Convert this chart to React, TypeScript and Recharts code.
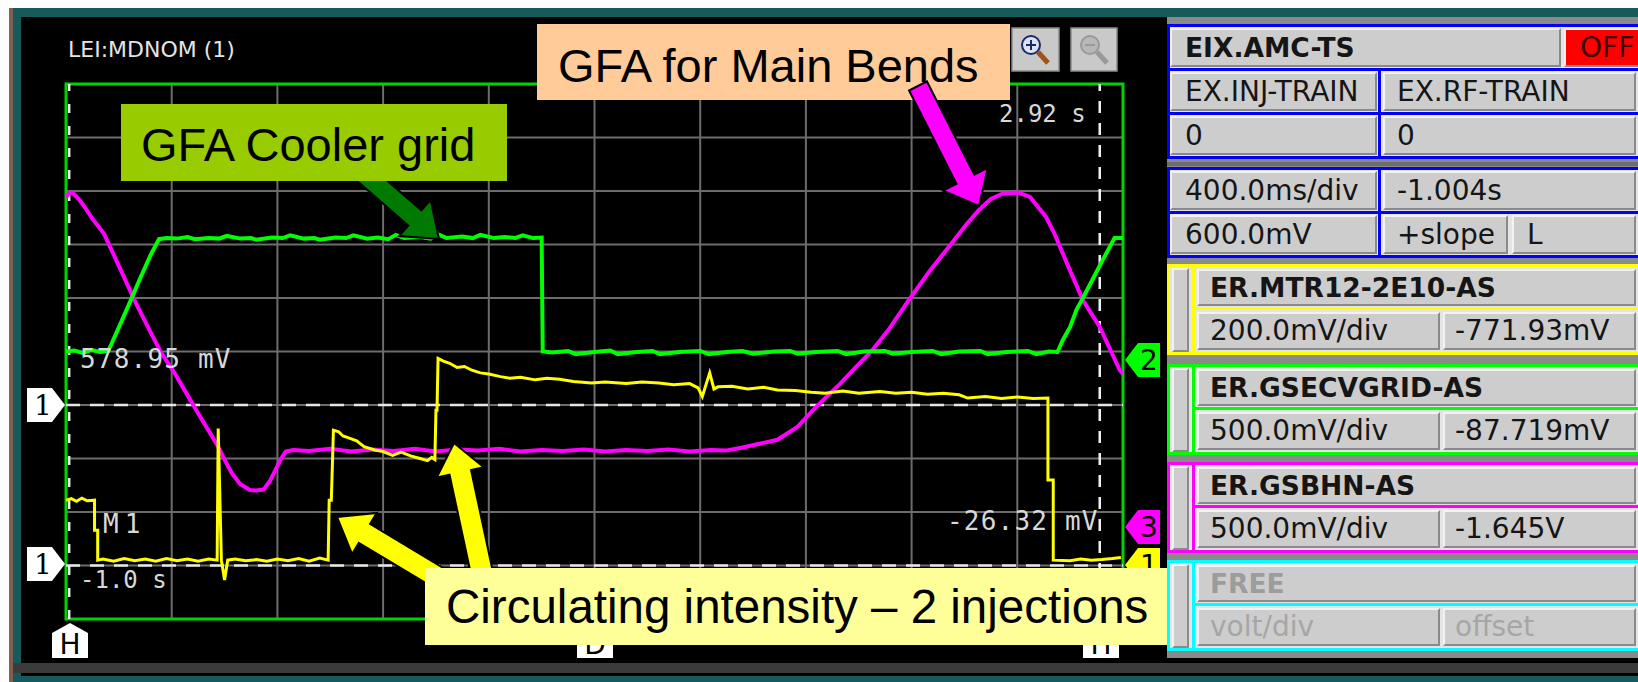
import React from 'react';
import { LineChart, Line, XAxis, YAxis, CartesianGrid, ReferenceLine, ReferenceArea } from 'recharts';

// ---------- data (in screen divisions: x 0..10, y 0..10) ----------
const divisions = [0, 1, 2, 3, 4, 5, 6, 7, 8, 9, 10];

const coolerGrid: [number, number][] = [
  [0.0, 5.0], [0.08, 5.02], [0.16, 4.97], [0.24, 5.03], [0.32, 4.99], [0.4, 5.01],
  [0.5, 5.45], [0.6, 5.9], [0.7, 6.36], [0.8, 6.8], [0.88, 7.1],
  [0.95, 7.12], [1.05, 7.11], [1.15, 7.14], [1.22, 7.1], [1.35, 7.12], [1.45, 7.11], [1.52, 7.16],
  [1.65, 7.11], [1.75, 7.12], [1.8, 7.09], [1.95, 7.13], [2.05, 7.12], [2.12, 7.17], [2.25, 7.11],
  [2.35, 7.12], [2.4, 7.09], [2.55, 7.13], [2.65, 7.12], [2.72, 7.17], [2.85, 7.11], [2.95, 7.13],
  [3.05, 7.1], [3.12, 7.18], [3.2, 7.12], [3.35, 7.14], [3.45, 7.11], [3.52, 7.19], [3.6, 7.12],
  [3.75, 7.15], [3.85, 7.12], [3.92, 7.18], [4.05, 7.12], [4.15, 7.14], [4.25, 7.12], [4.32, 7.17],
  [4.42, 7.12], [4.5, 7.13],
  [4.51, 5.0], [4.6, 4.98], [4.75, 5.01], [4.82, 4.95], [5.0, 4.99], [5.15, 5.02], [5.22, 4.95],
  [5.4, 4.99], [5.55, 5.01], [5.62, 4.95], [5.8, 4.99], [6.0, 5.01], [6.08, 4.95], [6.25, 4.99],
  [6.4, 5.01], [6.5, 4.96], [6.7, 5.0], [6.85, 5.01], [6.92, 4.96], [7.1, 4.99], [7.3, 5.01],
  [7.38, 4.95], [7.55, 5.0], [7.75, 5.01], [7.82, 4.96], [8.0, 4.99], [8.2, 5.01], [8.28, 4.95],
  [8.45, 5.0], [8.65, 5.01], [8.72, 4.95], [8.9, 4.99], [9.1, 5.01], [9.18, 4.95], [9.3, 5.0], [9.38, 4.99],
  [9.43, 5.21], [9.5, 5.46], [9.56, 5.78], [9.61, 5.96], [9.7, 6.3], [9.8, 6.68], [9.92, 7.12], [10.0, 7.12],
];

const mainBends: [number, number][] = [
  [0.0, 7.88], [0.03, 7.97], [0.07, 7.95], [0.12, 7.85], [0.17, 7.72], [0.25, 7.48], [0.36, 7.2],
  [0.5, 6.6], [0.66, 5.91], [0.79, 5.4], [0.9, 4.98], [1.03, 4.59], [1.13, 4.25], [1.23, 3.91],
  [1.34, 3.55], [1.44, 3.22], [1.5, 2.98], [1.57, 2.72], [1.65, 2.52], [1.74, 2.41], [1.8, 2.4],
  [1.87, 2.42], [1.93, 2.58], [1.98, 2.78], [2.03, 2.98], [2.08, 3.13], [2.15, 3.16],
  [2.3, 3.14], [2.5, 3.18], [2.7, 3.13], [2.9, 3.17], [3.1, 3.14], [3.3, 3.18], [3.5, 3.13],
  [3.7, 3.17], [3.9, 3.15], [4.1, 3.18], [4.3, 3.13], [4.5, 3.16], [4.7, 3.14], [4.9, 3.17],
  [5.1, 3.13], [5.3, 3.16], [5.5, 3.14], [5.7, 3.17], [5.9, 3.13], [6.1, 3.16], [6.25, 3.15],
  [6.39, 3.2], [6.55, 3.27], [6.73, 3.35], [6.92, 3.59], [7.1, 3.97], [7.33, 4.41], [7.48, 4.72],
  [7.63, 5.03], [7.78, 5.4], [7.97, 5.95], [8.17, 6.5], [8.37, 7.0], [8.52, 7.38], [8.64, 7.65],
  [8.75, 7.85], [8.86, 7.95], [9.01, 7.97], [9.12, 7.89], [9.27, 7.52], [9.35, 7.21], [9.48, 6.6],
  [9.62, 5.96], [9.78, 5.46], [9.97, 4.65], [10.0, 4.58],
];

const intensity: [number, number][] = [
  [0.0, 2.22], [0.05, 2.25], [0.1, 2.2], [0.15, 2.26], [0.2, 2.21], [0.27, 2.22],
  [0.27, 1.66], [0.3, 1.66], [0.3, 1.1], [0.35, 1.12], [0.45, 1.08], [0.55, 1.13], [0.65, 1.09],
  [0.75, 1.12], [0.85, 1.08], [0.95, 1.13], [1.05, 1.09], [1.15, 1.12], [1.25, 1.08], [1.35, 1.12],
  [1.43, 1.1], [1.44, 3.56], [1.47, 1.1], [1.5, 0.73], [1.53, 1.1], [1.6, 1.12], [1.7, 1.09],
  [1.8, 1.11], [1.9, 1.08], [2.0, 1.12], [2.1, 1.09], [2.2, 1.13], [2.3, 1.08], [2.4, 1.14],
  [2.48, 1.1], [2.49, 2.22], [2.51, 2.22], [2.53, 3.53], [2.58, 3.5], [2.62, 3.42], [2.68, 3.38],
  [2.75, 3.33], [2.82, 3.22], [2.92, 3.16], [3.0, 3.13], [3.09, 3.06], [3.17, 3.12], [3.26, 3.05],
  [3.35, 3.0], [3.42, 2.96], [3.46, 3.02], [3.49, 2.98], [3.5, 3.9], [3.51, 3.9], [3.52, 4.87],
  [3.57, 4.82], [3.63, 4.78], [3.7, 4.7], [3.77, 4.72], [3.84, 4.65], [3.92, 4.6], [4.0, 4.58],
  [4.11, 4.53], [4.2, 4.5], [4.3, 4.52], [4.44, 4.47], [4.55, 4.5], [4.67, 4.48], [4.8, 4.44],
  [4.97, 4.41], [5.1, 4.43], [5.3, 4.4], [5.45, 4.43], [5.61, 4.41], [5.75, 4.38], [5.9, 4.4],
  [5.98, 4.32], [6.02, 4.16], [6.09, 4.6], [6.13, 4.3], [6.17, 4.34], [6.3, 4.35], [6.45, 4.3],
  [6.6, 4.33], [6.73, 4.28], [6.9, 4.27], [7.05, 4.24], [7.18, 4.22], [7.35, 4.26], [7.5, 4.22],
  [7.7, 4.25], [7.85, 4.22], [8.0, 4.24], [8.15, 4.2], [8.3, 4.22], [8.45, 4.19], [8.53, 4.13],
  [8.7, 4.16], [8.85, 4.12], [9.0, 4.15], [9.15, 4.12], [9.29, 4.13], [9.29, 2.6], [9.34, 2.6],
  [9.34, 1.1], [9.5, 1.09], [9.6, 1.12], [9.7, 1.1], [9.8, 1.11], [9.9, 1.13], [9.98, 1.15],
];

const toRows = (pts: [number, number][]) => pts.map(([t, v]) => ({ t, v }));

const channels = [
  { name: 'ER.MTR12-2E10-AS', scale: '200.0mV/div', offset: '-771.93mV', color: '#ffff00', top: 264, disabled: false },
  { name: 'ER.GSECVGRID-AS', scale: '500.0mV/div', offset: '-87.719mV', color: '#00ff00', top: 364, disabled: false },
  { name: 'ER.GSBHN-AS', scale: '500.0mV/div', offset: '-1.645V', color: '#ff00ff', top: 462, disabled: false },
  { name: 'FREE', scale: 'volt/div', offset: 'offset', color: '#00ffff', top: 560, disabled: true },
];

// ---------- helpers ----------
function blockArrow(x1: number, y1: number, x2: number, y2: number, shaft: number, headW: number, headL: number) {
  const dx = x2 - x1, dy = y2 - y1, L = Math.hypot(dx, dy);
  const ux = dx / L, uy = dy / L, px = -uy, py = ux;
  const bx = x2 - ux * headL, by = y2 - uy * headL;
  const p = [
    [x1 + px * shaft / 2, y1 + py * shaft / 2],
    [bx + px * shaft / 2, by + py * shaft / 2],
    [bx + px * headW / 2, by + py * headW / 2],
    [x2, y2],
    [bx - px * headW / 2, by - py * headW / 2],
    [bx - px * shaft / 2, by - py * shaft / 2],
    [x1 - px * shaft / 2, y1 - py * shaft / 2],
  ];
  return p.map(q => q.join(',')).join(' ');
}

const abs = (x: number, y: number, w: number, h: number, bg: string, extra: React.CSSProperties = {}): React.CSSProperties => ({
  position: 'absolute', left: x, top: y, width: w, height: h, background: bg, ...extra,
});

const Btn = ({ x, y, w, h, text, bold = false, bg = '#cdcdcd', color = '#151515', pad = 14 }:
  { x: number; y: number; w: number; h: number; text: string; bold?: boolean; bg?: string; color?: string; pad?: number }) => (
  <div style={{
    position: 'absolute', left: x, top: y, width: w, height: h, boxSizing: 'border-box', background: bg,
    borderTop: '2px solid #f2f2f2', borderLeft: '2px solid #f2f2f2', borderBottom: '2px solid #8a8a8a', borderRight: '2px solid #8a8a8a',
    paddingLeft: pad - 2, fontFamily: '"DejaVu Sans", sans-serif', fontWeight: bold ? 700 : 400, fontSize: bold ? 26.5 : 28,
    color, lineHeight: (h - 4) + 'px', whiteSpace: 'nowrap', overflow: 'hidden',
  }}>{text}</div>
);

const Line2 = ({ x, y, w, h, c }: { x: number; y: number; w: number; h: number; c: string }) => (
  <div style={abs(x, y, w, h, c)} />
);

const scopeText = { fontFamily: '"DejaVu Sans Mono", monospace', fill: '#d8d8d8' };

export default function App() {
  return (
    <div style={{ position: 'absolute', left: 0, top: 0, width: 1638, height: 682, background: '#000', overflow: 'hidden' }}>
      {/* outer frame */}
      <div style={abs(0, 0, 1638, 8, '#ffffff')} />
      <div style={abs(0, 8, 1638, 9, '#175a5c')} />
      <div style={abs(0, 0, 9, 682, '#ffffff')} />
      <div style={abs(9, 8, 4, 674, '#7d6051')} />
      <div style={abs(13, 17, 8, 660, '#175a5c')} />
      <div style={abs(13, 663, 1625, 10, '#3b3b3b')} />
      <div style={abs(13, 676, 1625, 6, '#175a5c')} />

      {/* chart */}
      <div style={{ position: 'absolute', left: 0, top: 0 }}>
        <LineChart width={1638} height={682} margin={{ top: 84, right: 515, bottom: 63, left: 66 }}>
          <XAxis type="number" dataKey="t" domain={[0, 10]} ticks={divisions} hide allowDataOverflow />
          <YAxis type="number" dataKey="v" domain={[0, 10]} ticks={divisions} hide allowDataOverflow />
          <CartesianGrid stroke="#6c6c6c" strokeWidth={2} horizontalValues={divisions} verticalValues={divisions} />
          <ReferenceLine y={4} stroke="#e6e6e6" strokeWidth={2.5} strokeDasharray="14 10" />
          <ReferenceLine y={1} stroke="#e6e6e6" strokeWidth={2.5} strokeDasharray="14 10" />
          <ReferenceLine x={0.03} stroke="#f0f0f0" strokeWidth={2.5} strokeDasharray="9 13" />
          <ReferenceLine x={9.78} stroke="#f0f0f0" strokeWidth={2.5} strokeDasharray="12 10" />
          <ReferenceArea x1={0} x2={10} y1={0} y2={10} fill="none" fillOpacity={0} stroke="#00d400" strokeWidth={3} />
          <Line data={toRows(mainBends)} dataKey="v" type="linear" stroke="#ff00ff" strokeWidth={4} dot={false} isAnimationActive={false} />
          <Line data={toRows(coolerGrid)} dataKey="v" type="linear" stroke="#00ff00" strokeWidth={4} dot={false} isAnimationActive={false} />
          <Line data={toRows(intensity)} dataKey="v" type="linear" stroke="#ffff00" strokeWidth={3} dot={false} isAnimationActive={false} />
        </LineChart>
      </div>

      {/* overlay: scope texts, markers, annotations */}
      <svg width={1638} height={682} style={{ position: 'absolute', left: 0, top: 0, pointerEvents: 'none' }}>
        <text x={68} y={57} fontFamily='"DejaVu Sans", sans-serif' fontSize={22} fill="#e4e4e4">LEI:MDNOM (1)</text>
        <text x={999} y={122} fontSize={24} {...scopeText}>2.92 s</text>
        <text x={80} y={368} fontSize={26} letterSpacing={1.2} {...scopeText}>578.95 mV</text>
        <text x={103} y={533} fontSize={26} letterSpacing={6} {...scopeText}>M1</text>
        <text x={80} y={588} fontSize={24} {...scopeText}>-1.0 s</text>
        <text x={947} y={530} fontSize={26} letterSpacing={1.2} {...scopeText}>-26.32 mV</text>

        {/* left markers */}
        {[405, 564].map(yc => (
          <g key={yc}>
            <polygon points={`27,${yc - 17} 52,${yc - 17} 65,${yc} 52,${yc + 17} 27,${yc + 17}`} fill="#ffffff" />
            <text x={43} y={yc + 10} textAnchor="middle" fontFamily='"DejaVu Serif", serif' fontSize={28} fill="#000">1</text>
          </g>
        ))}
        {/* right markers */}
        {[
          { yc: 360, c: '#00ff00', t: '2' },
          { yc: 527, c: '#ff00ff', t: '3' },
          { yc: 565, c: '#ffff00', t: '1' },
        ].map(m => (
          <g key={m.t + m.yc}>
            <polygon points={`1125,${m.yc} 1138,${m.yc - 17} 1160,${m.yc - 17} 1160,${m.yc + 17} 1138,${m.yc + 17}`} fill={m.c} />
            <text x={1149} y={m.yc + 10} textAnchor="middle" fontFamily='"DejaVu Sans", sans-serif' fontSize={28} fill="#000">{m.t}</text>
          </g>
        ))}
        {/* bottom markers (partly covered by the yellow label, as in the original) */}
        {[{ xc: 70, t: 'H' }, { xc: 595, t: 'D' }, { xc: 1101, t: 'H' }].map(m => (
          <g key={m.xc}>
            <polygon points={`${m.xc - 18},658 ${m.xc - 18},633 ${m.xc},623 ${m.xc + 18},633 ${m.xc + 18},658`} fill="#ffffff" />
            <text x={m.xc} y={654} textAnchor="middle" fontFamily='"DejaVu Sans", sans-serif' fontSize={28} fill="#000">{m.t}</text>
          </g>
        ))}

        {/* zoom buttons */}
        <rect x={1012} y={28} width={47} height={43} fill="#c9c9c9" stroke="#8a8a8a" strokeWidth={1.5} />
        <circle cx={1031} cy={45} r={9} fill="#dde0f5" stroke="#1c2a66" strokeWidth={2} />
        <line x1={1026} y1={45} x2={1036} y2={45} stroke="#1c2a66" strokeWidth={2} />
        <line x1={1031} y1={40} x2={1031} y2={50} stroke="#1c2a66" strokeWidth={2} />
        <line x1={1038} y1={52} x2={1048} y2={63} stroke="#a0521d" strokeWidth={5} />
        <rect x={1071} y={28} width={46} height={43} fill="#c9c9c9" stroke="#8a8a8a" strokeWidth={1.5} />
        <circle cx={1090} cy={45} r={9} fill="#b8b8b8" stroke="#999" strokeWidth={2} />
        <line x1={1085} y1={45} x2={1095} y2={45} stroke="#999" strokeWidth={2} />
        <line x1={1097} y1={52} x2={1107} y2={63} stroke="#999" strokeWidth={5} />

        {/* annotations */}
        <polygon points={blockArrow(362, 172, 439, 239, 20, 48, 32)} fill="#007a00" stroke="#000" strokeWidth={2} />
        <polygon points={blockArrow(462, 592, 337, 517, 22, 48, 32)} fill="#ffff00" stroke="#000" strokeWidth={2} />
        <polygon points={blockArrow(486, 592, 454, 443, 22, 48, 30)} fill="#ffff00" stroke="#000" strokeWidth={2} />

        <rect x={121} y={104} width={386} height={77} fill="#99cc00" />
        <text x={141} y={161} fontFamily='"Liberation Sans", Arial, sans-serif' fontSize={47} fill="#000">GFA Cooler grid</text>

        <rect x={537} y={24} width={473} height={76} fill="#ffcc99" />
        <text x={558} y={82} fontFamily='"Liberation Sans", Arial, sans-serif' fontSize={47} fill="#000">GFA for Main Bends</text>
        <polygon points={blockArrow(918, 86, 979, 206, 20, 50, 30)} fill="#ff00ff" stroke="#000" strokeWidth={2} />

        <rect x={425} y={568} width={749} height={77} fill="#ffff99" />
        <text x={446} y={623} fontFamily='"Liberation Sans", Arial, sans-serif' fontSize={47.5} fill="#000">Circulating intensity – 2 injections</text>
      </svg>

      {/* right control panel */}
      <div style={abs(1167, 17, 471, 641, '#8a8a8a')} />
      {/* group 1 */}
      <div style={abs(1167, 24, 480, 135, '#e4e4e4', { boxSizing: 'border-box', border: '3px solid #0000ff' })} />
      <Btn x={1170} y={28} w={391} h={39} text="EIX.AMC-TS" bold pad={15} />
      <Btn x={1564} y={28} w={90} h={39} text="OFF" bg="#ff0000" color="#3a0000" pad={16} />
      <Line2 x={1167} y={68} w={471} h={3} c="#0000ff" />
      <Line2 x={1378} y={68} w={3} h={90} c="#0000ff" />
      <Btn x={1170} y={72} w={207} h={39} text="EX.INJ-TRAIN" pad={15} />
      <Btn x={1383} y={72} w={253} h={39} text="EX.RF-TRAIN" pad={14} />
      <Line2 x={1167} y={112} w={471} h={3} c="#0000ff" />
      <Btn x={1170} y={116} w={207} h={39} text="0" pad={15} />
      <Btn x={1383} y={116} w={253} h={39} text="0" pad={14} />
      <div style={abs(1167, 162, 471, 4, '#6e6e6e')} />
      {/* group 2 */}
      <div style={abs(1167, 167, 480, 91, '#e4e4e4', { boxSizing: 'border-box', border: '3px solid #0000ff' })} />
      <Btn x={1170} y={171} w={207} h={39} text="400.0ms/div" pad={15} />
      <Btn x={1383} y={171} w={253} h={39} text="-1.004s" pad={14} />
      <Line2 x={1167} y={211} w={471} h={3} c="#0000ff" />
      <Line2 x={1378} y={167} w={3} h={90} c="#0000ff" />
      <Btn x={1170} y={215} w={207} h={39} text="600.0mV" pad={15} />
      <Btn x={1383} y={215} w={125} h={39} text="+slope" pad={14} />
      <Btn x={1512} y={215} w={124} h={39} text="L" pad={15} />
      {/* channel groups */}
      {channels.map(ch => (
        <React.Fragment key={ch.name}>
          <div style={abs(1167, ch.top, 480, 91, '#e4e4e4', { boxSizing: 'border-box', border: `3px solid ${ch.color}` })} />
          <Btn x={1172} y={ch.top + 4} w={17} h={84} text="" />
          <Line2 x={1192} y={ch.top} w={3} h={91} c={ch.color} />
          <Btn x={1197} y={ch.top + 5} w={439} h={37} text={ch.name} bold pad={13} color={ch.disabled ? '#9c9c9c' : '#151515'} />
          <Line2 x={1192} y={ch.top + 43} w={446} h={3} c={ch.color} />
          <Btn x={1197} y={ch.top + 48} w={243} h={38} text={ch.scale} pad={13} color={ch.disabled ? '#a6a6a6' : '#151515'} />
          <Btn x={1443} y={ch.top + 48} w={193} h={38} text={ch.offset} pad={12} color={ch.disabled ? '#a6a6a6' : '#151515'} />
        </React.Fragment>
      ))}
    </div>
  );
}
